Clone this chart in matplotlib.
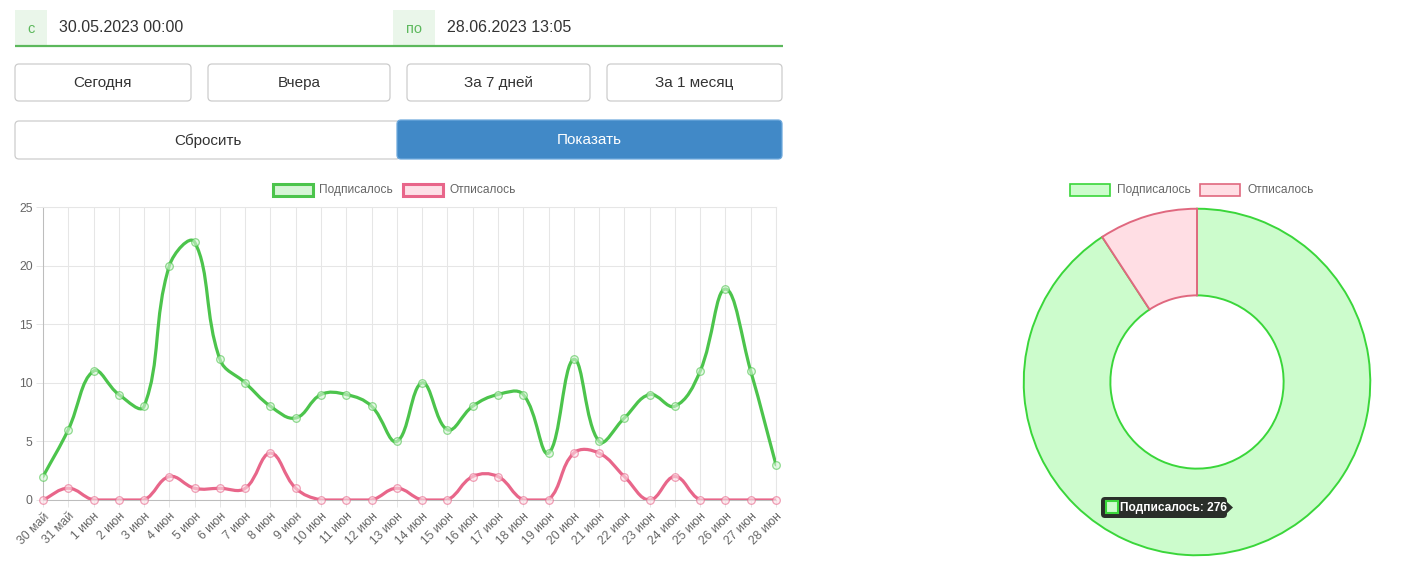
import numpy as np
import matplotlib
matplotlib.use("Agg")
import matplotlib.pyplot as plt
from matplotlib.path import Path
from matplotlib.patches import PathPatch, FancyBboxPatch, Rectangle, Polygon

plt.rcParams["font.family"] = ["Liberation Sans", "DejaVu Sans"]

# ── data ────────────────────────────────────────────────────
days = ["30 май", "31 май", "1 июн", "2 июн", "3 июн", "4 июн", "5 июн",
        "6 июн", "7 июн", "8 июн", "9 июн", "10 июн", "11 июн", "12 июн",
        "13 июн", "14 июн", "15 июн", "16 июн", "17 июн", "18 июн", "19 июн",
        "20 июн", "21 июн", "22 июн", "23 июн", "24 июн", "25 июн", "26 июн",
        "27 июн", "28 июн"]
subscribed = [2, 6, 11, 9, 8, 20, 22, 12, 10, 8, 7, 9, 9, 8, 5, 10, 6, 8, 9, 9,
              4, 12, 5, 7, 9, 8, 11, 18, 11, 3]
unsubscribed = [0, 1, 0, 0, 0, 2, 1, 1, 1, 4, 1, 0, 0, 0, 1, 0, 0, 2, 2, 0,
                0, 4, 4, 2, 0, 2, 0, 0, 0, 0]
series_names = ["Подписалось", "Отписалось"]
y_ticks = [0, 5, 10, 15, 20, 25]
totals = [sum(subscribed), sum(unsubscribed)]

GREEN, GREEN_FILL = "#4cc44c", "#d6f5d6"
RED, RED_FILL = "#e8668a", "#fde0e7"
D_GREEN, D_GREEN_FILL = "#3ad63a", "#ccfccc"
D_RED, D_RED_FILL = "#e0687f", "#ffdee4"
GRID = "#e6e6e6"
TXT = "#666666"

W, H = 1406, 570
fig = plt.figure(figsize=(W / 100, H / 100), dpi=100)


def px_axes(x0, y0, x1, y1, **kw):
    """axes from pixel box (top-left origin)"""
    return fig.add_axes([x0 / W, 1 - y1 / H, (x1 - x0) / W, (y1 - y0) / H], **kw)


def chartjs_curve(ax, xs, ys, tension=0.4):
    """bezier path like chart.js line (tension 0.4, capped to area)"""
    pts = ax.transData.transform(np.column_stack([xs, ys]))
    bb = ax.bbox
    n = len(pts)
    cps = []
    for i in range(n):
        prev, cur, nxt = pts[max(i - 1, 0)], pts[i], pts[min(i + 1, n - 1)]
        d01 = np.hypot(*(cur - prev))
        d12 = np.hypot(*(nxt - cur))
        tot = d01 + d12
        s01 = d01 / tot if tot else 0
        s12 = d12 / tot if tot else 0
        a = cur - tension * s01 * (nxt - prev)
        b = cur + tension * s12 * (nxt - prev)
        for c in (a, b):
            c[0] = np.clip(c[0], bb.x0, bb.x1)
            c[1] = np.clip(c[1], bb.y0, bb.y1)
        cps.append((a, b))
    verts, codes = [pts[0]], [Path.MOVETO]
    for i in range(1, n):
        verts += [cps[i - 1][1], cps[i][0], pts[i]]
        codes += [Path.CURVE4] * 3
    verts = ax.transData.inverted().transform(np.array(verts))
    return Path(verts, codes)


# ── line chart ──────────────────────────────────────────────
ax = px_axes(43, 207, 776, 500)
x = np.arange(len(days))
ax.set_xlim(0, len(days) - 1)
ax.set_ylim(y_ticks[0], y_ticks[-1])
ax.set_xticks(x)
ax.set_xticklabels(days, rotation=45, ha="right", va="top",
                   rotation_mode="anchor", fontsize=8.8, color=TXT)
ax.set_yticks(y_ticks)
ax.set_yticklabels([str(t) for t in y_ticks], fontsize=8.8, color=TXT)
ax.tick_params(axis="both", length=5, width=0.7, color=GRID, pad=2.5)
ax.grid(True, color=GRID, lw=0.75)
ax.set_axisbelow(True)
for s in ("top", "right"):
    ax.spines[s].set_color(GRID)
    ax.spines[s].set_linewidth(0.75)
for s in ("left", "bottom"):
    ax.spines[s].set_color("#bdbdbd")
    ax.spines[s].set_linewidth(0.75)

for vals, col, fill in ((subscribed, GREEN, GREEN_FILL),
                        (unsubscribed, RED, RED_FILL)):
    ax.add_patch(PathPatch(chartjs_curve(ax, x, vals), fill=False,
                           edgecolor=col, lw=2.3, zorder=3,
                           capstyle="round", joinstyle="round"))
    ax.plot(x, vals, ls="none", marker="o", ms=5.5, mfc=fill, mec=col,
            mew=0.9, alpha=0.6, zorder=4, clip_on=False)

# ── donut ───────────────────────────────────────────────────
ax2 = px_axes(1022, 207, 1372, 557)
wedges, _ = ax2.pie(totals, startangle=90, counterclock=False, radius=1,
                    colors=[D_GREEN_FILL, D_RED_FILL],
                    wedgeprops=dict(width=0.5, linewidth=1.4))
wedges[0].set_edgecolor(D_GREEN)
wedges[1].set_edgecolor(D_RED)
wedges[1].set_zorder(3)
ax2.set_xlim(-1.01, 1.01)
ax2.set_ylim(-1.01, 1.01)
ax2.axis("off")

# ── page overlay (form, legends, tooltip) ───────────────────
ui = fig.add_axes([0, 0, 1, 1], zorder=5)
ui.set_xlim(0, W)
ui.set_ylim(H, 0)
ui.axis("off")

FORM_GREEN = "#5cb85c"
# date inputs
for x0, x1, lab, val in ((15, 47, "с", "30.05.2023 00:00"),
                         (393, 435, "по", "28.06.2023 13:05")):
    ui.add_patch(Rectangle((x0, 10), x1 - x0, 36, fc="#eaf6ea", ec="none"))
    ui.text((x0 + x1) / 2, 29, lab, ha="center", va="center",
            fontsize=10.5, color=FORM_GREEN)
    ui.text(x1 + 12, 27, val, ha="left", va="center", fontsize=11.5,
            color="#333333")
ui.plot([15, 783], [46, 46], color=FORM_GREEN, lw=1.6, solid_capstyle="butt")


def button(x0, x1, y0, y1, label, fc="white", ec="#cccccc", tc="#333333"):
    ui.add_patch(FancyBboxPatch((x0, y0), x1 - x0, y1 - y0,
                                boxstyle="round,pad=0,rounding_size=4",
                                fc=fc, ec=ec, lw=0.9))
    ui.text((x0 + x1) / 2, (y0 + y1) / 2 + 1, label, ha="center",
            va="center", fontsize=11, color=tc)


button(15, 191, 64, 101, "Сегодня")
button(208, 390, 64, 101, "Вчера")
button(407, 590, 64, 101, "За 7 дней")
button(607, 782, 64, 101, "За 1 месяц")
button(15, 400, 121, 159, "Сбросить")
button(397, 782, 120, 159, "Показать", fc="#4189c7", ec="#6fa9dc",
       tc="white")


def legend(entries, y):
    for bx, tx, name, ec, fc, lw in entries:
        ui.add_patch(Rectangle((bx, y - 6), 40, 12, fc=fc, ec=ec, lw=lw))
        ui.text(tx, y, name, ha="left", va="center", fontsize=8.6, color=TXT)


legend([(273, 319, series_names[0], GREEN, GREEN_FILL, 2.2),
        (403, 449, series_names[1], RED, RED_FILL, 2.2)], 190)
legend([(1070, 1117, series_names[0], D_GREEN, D_GREEN_FILL, 1.2),
        (1200, 1247, series_names[1], D_RED, D_RED_FILL, 1.2)], 190)

# tooltip
ui.add_patch(FancyBboxPatch((1101, 497), 126, 21,
                            boxstyle="round,pad=0,rounding_size=4",
                            fc="#2a2f2a", ec="none"))
ui.add_patch(Polygon([(1226, 501), (1233, 507.5), (1226, 514)],
                     closed=True, fc="#2a2f2a", ec="none"))
ui.add_patch(Rectangle((1106, 501), 12, 12, fc=D_GREEN_FILL, ec=D_GREEN,
                       lw=1.5))
ui.text(1120, 508, f"{series_names[0]}: {totals[0]}", ha="left",
        va="center", fontsize=8.6, fontweight="bold", color="white")

fig.savefig("out.png", dpi=100)
